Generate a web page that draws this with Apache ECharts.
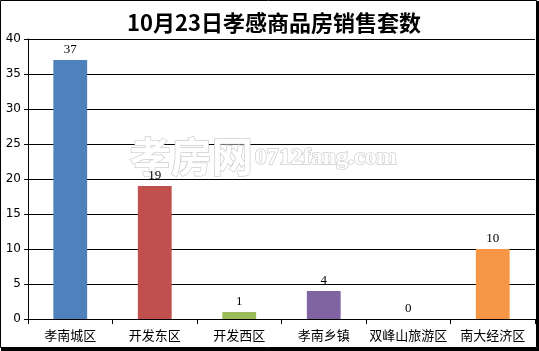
<!DOCTYPE html>
<html>
<head>
<meta charset="utf-8">
<script src="https://cdn.jsdelivr.net/npm/echarts@6/dist/echarts.min.js"></script>
<style>
html,body{margin:0;padding:0;background:#fff;}
#chart{width:539px;height:351px;}
</style>
</head>
<body>
<div id="chart"></div>
<script>
var titleText = '10月23日孝感商品房销售套数';
var categories = ['孝南城区', '开发东区', '开发西区', '孝南乡镇', '双峰山旅游区', '南大经济区'];
var values = [37, 19, 1, 4, 0, 10];
var barColors = ['#4F81BD', '#C0504D', '#9BBB59', '#8064A2', '#4BACC6', '#F79646'];
var yTicks = [0, 5, 10, 15, 20, 25, 30, 35, 40];

var chart = echarts.init(document.getElementById('chart'), null, {renderer: 'canvas'});
chart.setOption({
  backgroundColor: '#fff',
  animation: false,
  title: {
    text: titleText,
    left: 269, top: 7, textAlign: 'center',
    textStyle: {fontFamily: 'Noto Sans CJK SC', fontWeight: 'bold', fontSize: 22, color: '#000'}
  },
  grid: {left: 28, right: 4, top: 39, bottom: 32},
  xAxis: {
    type: 'category',
    data: categories,
    axisLine: {lineStyle: {color: '#000', width: 1}},
    axisTick: {show: true, length: 5, alignWithLabel: false, lineStyle: {color: '#000'}},
    axisLabel: {color: '#000', fontSize: 13, margin: 10, fontFamily: 'Noto Sans CJK SC', interval: 0}
  },
  yAxis: {
    type: 'value',
    min: yTicks[0], max: yTicks[yTicks.length - 1], interval: 5,
    axisLine: {show: true, lineStyle: {color: '#000', width: 1}},
    axisTick: {show: true, length: 4, lineStyle: {color: '#000'}},
    axisLabel: {color: '#000', fontSize: 12, margin: 7, fontFamily: 'DejaVu Sans'},
    splitLine: {show: true, lineStyle: {color: '#000', width: 1}}
  },
  series: [{
    type: 'bar',
    data: values.map(function (v, i) { return {value: v, itemStyle: {color: barColors[i]}}; }),
    barWidth: '40%',
    z: 3,
    label: {show: true, position: 'top', distance: 4, color: '#000', fontSize: 13, fontFamily: 'Liberation Serif'}
  }],
  graphic: [
    {type: 'text', left: 129, top: 135, z: 2, silent: true,
      style: {text: '孝房网', font: 'bold 41px "Noto Sans CJK SC"', fill: '#fff', stroke: '#cfcfcf', lineWidth: 1.5}},
    {type: 'text', left: 254, top: 145, z: 2, silent: true,
      style: {text: '0712fang.com', font: 'bold 24px "Liberation Serif"', fill: '#fff', stroke: '#cfcfcf', lineWidth: 1.5}},
    {type: 'rect', z: 10, silent: true, shape: {x: 0.5, y: 0.5, width: 536, height: 347},
      style: {fill: null, stroke: '#000', lineWidth: 1}},
    {type: 'rect', z: 10, silent: true, shape: {x: 537, y: 1, width: 2, height: 350}, style: {fill: '#000'}},
    {type: 'rect', z: 10, silent: true, shape: {x: 1, y: 348, width: 538, height: 3}, style: {fill: '#000'}}
  ]
});
</script>
</body>
</html>
